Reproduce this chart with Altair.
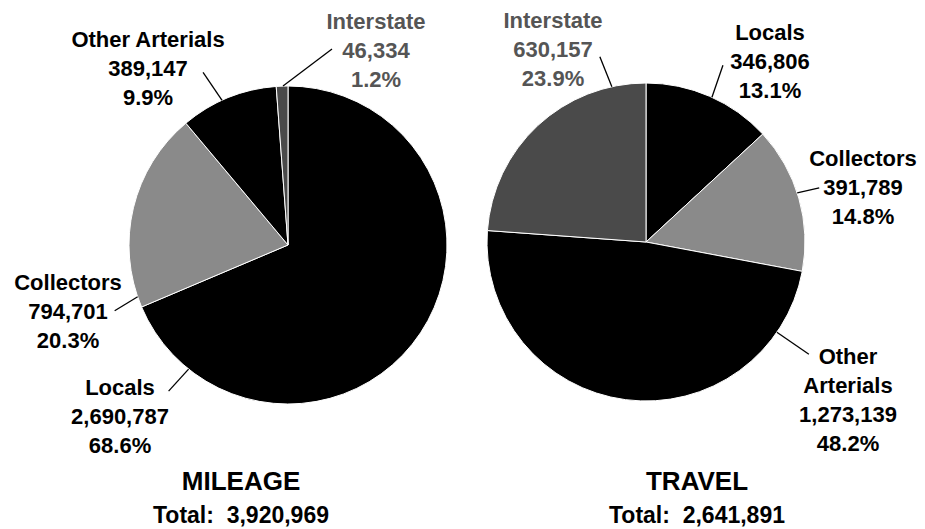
import math
import altair as alt
import pandas as pd

# ---------------- data ----------------
categories = ["Locals", "Collectors", "Other Arterials", "Interstate"]
mileage_values = [2690787, 794701, 389147, 46334]
travel_values = [346806, 391789, 1273139, 630157]
panel_names = ["MILEAGE", "TRAVEL"]

# ---------------- style / layout ----------------
W, H = 909, 519
R = 159
OFF = 8  # page margin
LH = 29  # label line height
fill_colors = {"Locals": "#000000", "Collectors": "#8a8a8a",
               "Other Arterials": "#000000", "Interstate": "#4a4a4a"}
text_colors = {"Locals": "#000000", "Collectors": "#000000",
               "Other Arterials": "#000000", "Interstate": "#555555"}
FONT = "Liberation Sans"

panels = {
    "MILEAGE": {
        "values": mileage_values,
        "center": (288, 245),
        "names": {"Locals": "Locals", "Collectors": "Collectors",
                  "Other Arterials": "Other Arterials", "Interstate": "Interstate"},
        # label block centre offset from pie centre
        "label": {"Other Arterials": (-140, -176), "Interstate": (88, -194),
                  "Collectors": (-220, 67), "Locals": (-168, 172)},
        # leader: rim angle (deg clockwise from 12) and end offset from rim point
        "leader": {"Other Arterials": (335.5, (-19, -28)), "Interstate": (358.2, (49, -37)),
                   "Collectors": (251.0, (-23, 14)), "Locals": (218.7, (-20, 22))},
        "title": (-47, 237),
    },
    "TRAVEL": {
        "values": travel_values,
        "center": (646, 242),
        "names": {"Locals": "Locals", "Collectors": "Collectors",
                  "Other Arterials": "Other\nArterials", "Interstate": "Interstate"},
        "label": {"Interstate": (-93, -192), "Locals": (124, -180),
                  "Collectors": (217, -54), "Other Arterials": (202, 158)},
        "leader": {"Interstate": (347.6, (-12, -30)), "Locals": (24.5, (11, -32)),
                   "Collectors": (72.0, (22, -5)), "Other Arterials": (124.6, (32, 22))},
        "title": (51, 240),
    },
}

slice_rows, label_rows, leader_rows, title_rows = [], [], [], []
for pname in panel_names:
    p = panels[pname]
    vals = p["values"]
    total = sum(vals)
    cx, cy = p["center"]
    for i, (cat, v) in enumerate(zip(categories, vals)):
        slice_rows.append({"panel": pname, "cat": cat, "value": v, "order": i})
        lx, ly = p["label"][cat]
        txt = f"{p['names'][cat]}\n{v:,}\n{100 * v / total:.1f}%"
        n = txt.count("\n") + 1
        label_rows.append({"x": cx + lx - OFF,
                           "y": cy + ly - OFF - (n - 1) * LH / 2,
                           "text": txt, "tc": text_colors[cat]})
        ang, (ex, ey) = p["leader"][cat]
        a = math.radians(ang)
        rx = cx + R * math.sin(a)
        ry = cy - R * math.cos(a)
        leader_rows.append({"x": rx - OFF, "y": ry - OFF,
                            "x2": rx + ex - OFF, "y2": ry + ey - OFF})
    tx, ty = p["title"]
    title_rows.append({"x": cx + tx - OFF, "y": cy + ty - OFF, "t1": pname,
                       "t2": f"Total:\u00a0\u00a0{total:,}"})

slices = pd.DataFrame(slice_rows)
labels = pd.DataFrame(label_rows)
leaders = pd.DataFrame(leader_rows)
titles = pd.DataFrame(title_rows)

color_scale = alt.Scale(domain=categories, range=[fill_colors[c] for c in categories])

layers = []
for pname in panel_names:
    cx, cy = panels[pname]["center"]
    pie = alt.Chart(slices).transform_filter(
        alt.datum.panel == pname
    ).mark_arc(outerRadius=R, stroke="white", strokeWidth=1).encode(
        theta=alt.Theta("value:Q", stack=True),
        order=alt.Order("order:Q"),
        color=alt.Color("cat:N", scale=color_scale, legend=None),
        x=alt.value(cx - OFF),
        y=alt.value(cy - OFF),
    )
    layers.append(pie)

lead = alt.Chart(leaders).mark_rule(color="black", strokeWidth=1.3).encode(
    x=alt.X("x:Q", scale=None, axis=None),
    y=alt.Y("y:Q", scale=None, axis=None),
    x2="x2:Q",
    y2="y2:Q",
)

lab = alt.Chart(labels).mark_text(
    font=FONT, fontWeight="bold", fontSize=22, lineBreak="\n", lineHeight=LH,
    align="center", baseline="middle",
).encode(
    x=alt.X("x:Q", scale=None, axis=None),
    y=alt.Y("y:Q", scale=None, axis=None),
    text="text:N",
    color=alt.Color("tc:N", scale=None),
)

t1 = alt.Chart(titles).mark_text(
    font=FONT, fontWeight="bold", fontSize=26, align="center", baseline="middle", color="black"
).encode(
    x=alt.X("x:Q", scale=None, axis=None),
    y=alt.Y("y:Q", scale=None, axis=None),
    text="t1:N",
)
t2 = alt.Chart(titles).mark_text(
    font=FONT, fontWeight="bold", fontSize=23, align="center", baseline="middle",
    color="black", dy=34,
).encode(
    x=alt.X("x:Q", scale=None, axis=None),
    y=alt.Y("y:Q", scale=None, axis=None),
    text="t2:N",
)

chart = alt.layer(*layers, lead, lab, t1, t2).resolve_scale(
    theta="independent"
).properties(
    width=W, height=H, autosize=alt.AutoSizeParams(type="none"), padding=0,
    background="white",
).configure_view(stroke=None)

chart.save("out.html", embed_options={"renderer": "svg", "actions": False})
